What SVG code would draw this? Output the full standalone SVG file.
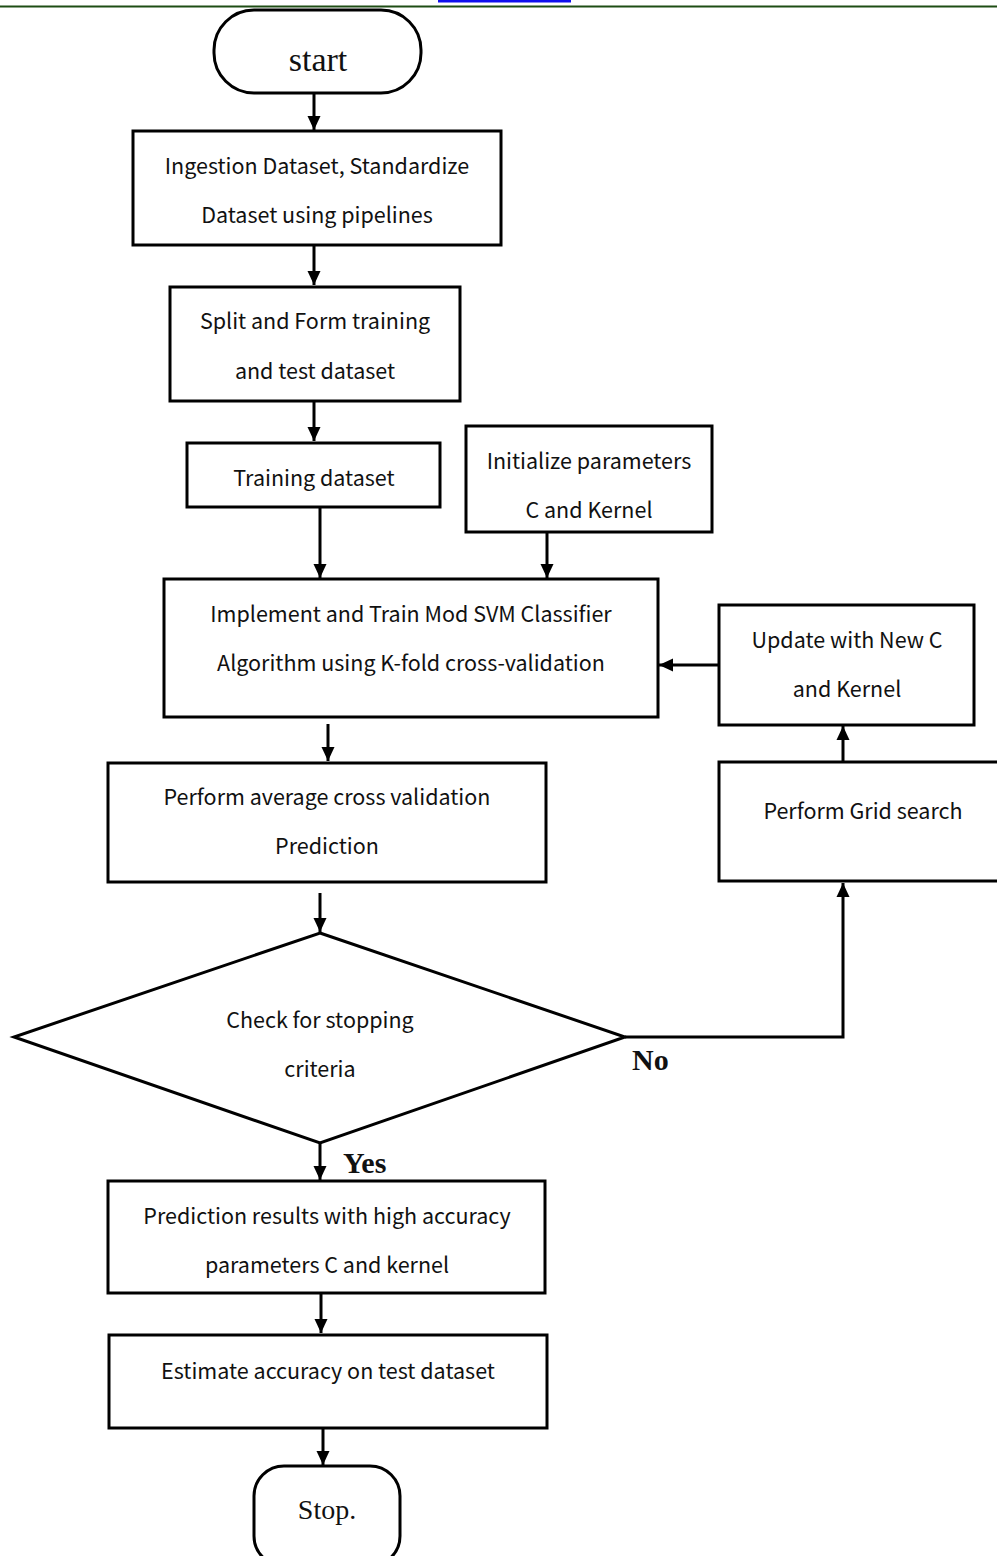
<svg xmlns="http://www.w3.org/2000/svg" width="997" height="1556" viewBox="0 0 997 1556">
<style>
.box{fill:#fff;stroke:#000;stroke-width:3}
.t{font-family:"Noto Sans CJK KR","Noto Sans",sans-serif;font-size:21.5px;fill:#111;text-anchor:middle}
.s{font-family:"Liberation Serif",serif;fill:#111;text-anchor:middle}
.b{font-family:"Liberation Serif",serif;font-weight:bold;font-size:30px;fill:#111}
.c{fill:none;stroke:#000;stroke-width:3}
</style>
<defs>
<marker id="ah" viewBox="0 0 14 14" refX="14" refY="7" markerWidth="14" markerHeight="14" markerUnits="userSpaceOnUse" orient="auto">
<path d="M0,0.5 L14,7 L0,13.5 Z" fill="#000"/>
</marker>
</defs>
<rect x="0" y="0" width="997" height="1556" fill="#fff"/>
<rect x="0" y="5.5" width="997" height="2" fill="#1e4d14"/>
<rect x="438" y="0" width="133" height="2.5" fill="#1010ee"/>

<g id="connectors">
<line class="c" x1="314" y1="93" x2="314" y2="130" marker-end="url(#ah)"/>
<line class="c" x1="314" y1="245" x2="314" y2="285" marker-end="url(#ah)"/>
<line class="c" x1="314" y1="401" x2="314" y2="441" marker-end="url(#ah)"/>
<line class="c" x1="320" y1="507" x2="320" y2="578" marker-end="url(#ah)"/>
<line class="c" x1="547" y1="532" x2="547" y2="578" marker-end="url(#ah)"/>
<line class="c" x1="719" y1="665" x2="659" y2="665" marker-end="url(#ah)"/>
<line class="c" x1="843" y1="762" x2="843" y2="726" marker-end="url(#ah)"/>
<line class="c" x1="328" y1="724" x2="328" y2="761" marker-end="url(#ah)"/>
<line class="c" x1="320" y1="893" x2="320" y2="932" marker-end="url(#ah)"/>
<polyline class="c" points="625,1037 843,1037 843,883" marker-end="url(#ah)"/>
<line class="c" x1="320" y1="1143" x2="320" y2="1180" marker-end="url(#ah)"/>
<line class="c" x1="321" y1="1293" x2="321" y2="1333" marker-end="url(#ah)"/>
<line class="c" x1="323" y1="1428" x2="323" y2="1465" marker-end="url(#ah)"/>
<text class="b" x="632" y="1070">No</text>
<text class="b" x="343" y="1173">Yes</text>
</g>

<g id="start">
<rect class="box" x="214" y="10" width="207" height="83" rx="40" ry="40"/>
<text class="s" x="318" y="71" font-size="34">start</text>
</g>
<g id="ingest">
<rect class="box" x="133" y="131" width="368" height="114"/>
<text class="t" x="317" y="174">Ingestion Dataset, Standardize</text>
<text class="t" x="317" y="223">Dataset using pipelines</text>
</g>
<g id="split">
<rect class="box" x="170" y="287" width="290" height="114"/>
<text class="t" x="315" y="329">Split and Form training</text>
<text class="t" x="315" y="379">and test dataset</text>
</g>
<g id="training">
<rect class="box" x="187" y="443" width="253" height="64"/>
<text class="t" x="314" y="486">Training dataset</text>
</g>
<g id="init">
<rect class="box" x="466" y="426" width="246" height="106"/>
<text class="t" x="589" y="469">Initialize parameters</text>
<text class="t" x="589" y="518">C and Kernel</text>
</g>
<g id="train">
<rect class="box" x="164" y="579" width="494" height="138"/>
<text class="t" x="411" y="622">Implement and Train Mod SVM Classifier</text>
<text class="t" x="411" y="671">Algorithm using K-fold cross-validation</text>
</g>
<g id="update">
<rect class="box" x="719" y="605" width="255" height="120"/>
<text class="t" x="847" y="648">Update with New C</text>
<text class="t" x="847" y="697">and Kernel</text>
</g>
<g id="grid">
<rect class="box" x="719" y="762" width="290" height="119"/>
<text class="t" x="863" y="819">Perform Grid search</text>
</g>
<g id="average">
<rect class="box" x="108" y="763" width="438" height="119"/>
<text class="t" x="327" y="805">Perform average cross validation</text>
<text class="t" x="327" y="854">Prediction</text>
</g>
<g id="check">
<polygon class="box" points="320,933 625,1037 320,1143 14,1037"/>
<text class="t" x="320" y="1028">Check for stopping</text>
<text class="t" x="320" y="1077">criteria</text>
</g>
<g id="results">
<rect class="box" x="108" y="1181" width="437" height="112"/>
<text class="t" x="327" y="1224">Prediction results with high accuracy</text>
<text class="t" x="327" y="1273">parameters C and kernel</text>
</g>
<g id="estimate">
<rect class="box" x="109" y="1335" width="438" height="93"/>
<text class="t" x="328" y="1379">Estimate accuracy on test dataset</text>
</g>
<g id="stop">
<rect class="box" x="254" y="1466" width="146" height="100" rx="30" ry="30"/>
<text class="s" x="327" y="1519" font-size="28">Stop.</text>
</g>
</svg>
